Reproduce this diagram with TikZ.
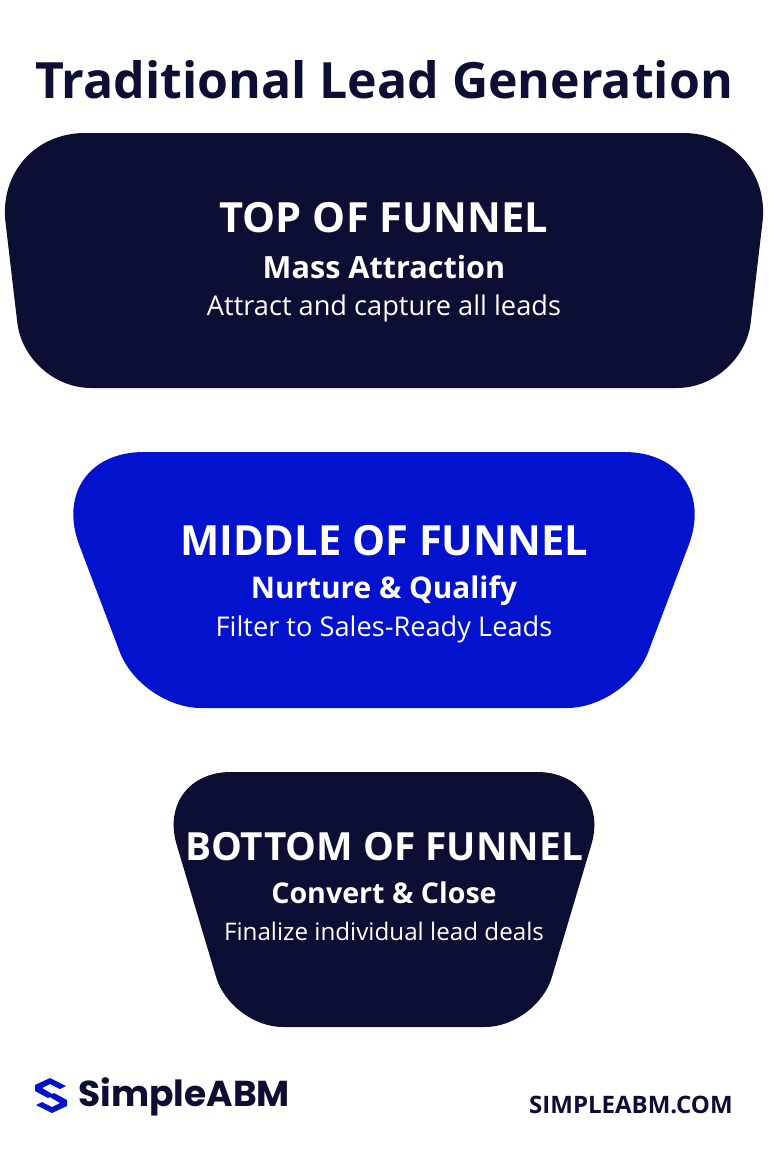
\documentclass[tikz,border=0pt]{standalone}
\usepackage{fontspec}
\setmainfont{Open Sans}
\newfontfamily\logofont{Poppins}
\usetikzlibrary{positioning}
\definecolor{navy}{HTML}{0C0E33}
\definecolor{royal}{HTML}{0312CC}

\begin{document}
\begin{tikzpicture}[x=0.5pt,y=-0.5pt,
  head/.style={text=white,inner sep=0pt,anchor=base,font=\bfseries\fontsize{#1}{22}\selectfont},
  sub/.style={text=white,inner sep=0pt,anchor=base,font=\bfseries\fontsize{#1}{17}\selectfont},
  note/.style={text=white,inner sep=0pt,anchor=base,font=\fontsize{#1}{15}\selectfont}]
\useasboundingbox[fill=white] (0,0) rectangle (768,1152);
\node(title) at (384,98) [text=navy,inner sep=0pt,anchor=base,font=\bfseries\fontsize{25}{30}\selectfont] {Traditional Lead Generation};
\fill[navy] (384,133) [rounded corners=45pt] -- (773,133) [rounded corners=33pt] -- (743,388) -- (25,388) [rounded corners=45pt] -- (-5,133) -- cycle;
\fill[royal] (384,452) [rounded corners=50pt] -- (724,452) [rounded corners=30pt] -- (627,708) -- (141,708) [rounded corners=50pt] -- (44,452) -- cycle;
\fill[navy] (384,772) [rounded corners=38pt] -- (613,772) [rounded corners=26pt] -- (537,1027) -- (231,1027) [rounded corners=38pt] -- (155,772) -- cycle;
\node(tof) at (384,232) [head=20.8] {TOP OF FUNNEL};
\node(tofsub) at (384,278) [sub=15.3] {Mass Attraction};
\node(tofnote) at (384,315) [note=13.6] {Attract and capture all leads};
\node(mof) at (384,555) [head=20.8] {MIDDLE OF FUNNEL};
\node(mofsub) at (384,598) [sub=14.9] {Nurture \& Qualify};
\node(mofnote) at (384,636) [note=13.6] {Filter to Sales-Ready Leads};
\node(bof) at (384,860) [head=19.4] {BOTTOM OF FUNNEL};
\node(bofsub) at (384,903) [sub=14.3] {Convert \& Close};
\node(bofnote) at (384,940) [note=12.1] {Finalize individual lead deals};
\fill[royal] (35,1085) -- (50,1078) -- (66,1086) -- (60,1089) -- (50,1084) -- (42,1088) -- (54,1095) -- (48,1098) -- (35,1091) -- cycle;
\fill[royal] (67,1106) -- (52,1113) -- (36,1105) -- (42,1102) -- (52,1107) -- (60,1103) -- (48,1096) -- (54,1093) -- (67,1100) -- cycle;
\node(logo) at (78,1106) [text=navy,inner sep=0pt,anchor=base west,font=\logofont\bfseries\fontsize{18}{20}\selectfont] {SimpleABM};
\node(site) at (733,1113) [text=navy,inner sep=0pt,anchor=base east,font=\bfseries\fontsize{12}{14}\selectfont] {SIMPLEABM.COM};
\end{tikzpicture}
\end{document}
